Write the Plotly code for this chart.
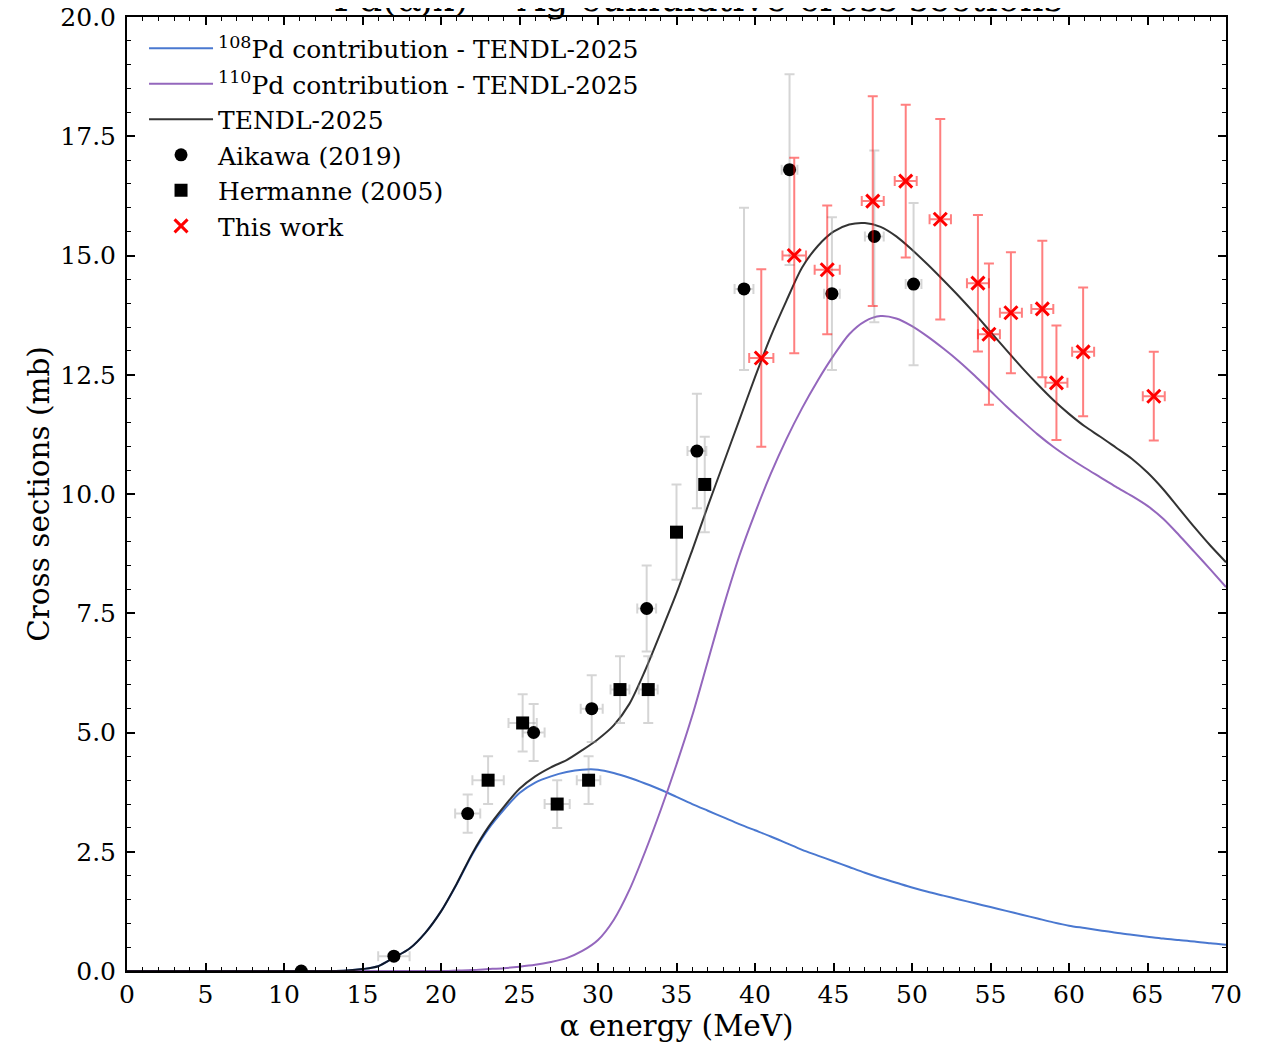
import plotly.graph_objects as go

# ---------------- data ----------------
energy = list(range(0, 71))

pd108 = [0]*13 + [0.0, 0.01, 0.04, 0.1, 0.28, 0.47, 0.8, 1.25, 1.82, 2.45, 2.97, 3.38,
         3.73, 3.95, 4.08, 4.17, 4.22, 4.22, 4.15, 4.05, 3.93, 3.8, 3.65, 3.5, 3.36, 3.22,
         3.08, 2.95, 2.82, 2.68, 2.54, 2.42, 2.3, 2.18, 2.06, 1.95, 1.85, 1.75, 1.66, 1.58,
         1.5, 1.42, 1.34, 1.26, 1.18, 1.1, 1.02, 0.95, 0.9, 0.85, 0.8, 0.76, 0.72, 0.68,
         0.65, 0.62, 0.58, 0.55]

pd110 = [0]*21 + [0.01, 0.02, 0.04, 0.06, 0.09, 0.13, 0.19, 0.27, 0.42, 0.65, 1.07, 1.7,
         2.5, 3.38, 4.33, 5.35, 6.5, 7.65, 8.7, 9.6, 10.42, 11.15, 11.8, 12.38, 12.9,
         13.35, 13.62, 13.73, 13.68, 13.52, 13.3, 13.05, 12.78, 12.48, 12.16, 11.84, 11.54,
         11.25, 10.99, 10.76, 10.55, 10.35, 10.15, 9.96, 9.75, 9.48, 9.14, 8.78, 8.42, 8.05]

tendl = [0]*14 + [0.01, 0.04, 0.1, 0.28, 0.47, 0.8, 1.25, 1.83, 2.47, 3.01, 3.44, 3.82,
         4.08, 4.27, 4.42, 4.63, 4.86, 5.15, 5.6, 6.3, 7.1, 7.92, 8.82, 9.75, 10.65, 11.55,
         12.45, 13.3, 14.05, 14.75, 15.2, 15.5, 15.65, 15.68, 15.6, 15.4, 15.12, 14.81,
         14.48, 14.14, 13.78, 13.4, 13.02, 12.65, 12.3, 11.97, 11.68, 11.42, 11.2, 10.97,
         10.74, 10.45, 10.1, 9.7, 9.3, 8.92, 8.57]

aik_e = [11.1, 17.0, 21.7, 25.9, 29.6, 33.1, 36.3, 39.3, 42.2, 44.9, 47.6, 50.1]
aik_de = [0.0, 1.0, 0.8, 0.7, 0.7, 0.6, 0.6, 0.6, 0.5, 0.5, 0.6, 0.5]
aik_cs = [0.0, 0.31, 3.3, 5.0, 5.5, 7.6, 10.9, 14.3, 16.8, 14.2, 15.4, 14.4]
aik_dcs = [0.0, 0.03, 0.4, 0.6, 0.7, 0.9, 1.2, 1.7, 2.0, 1.6, 1.8, 1.7]

her_e = [23.0, 25.2, 27.4, 29.4, 31.4, 33.2, 35.0, 36.8]
her_de = [1.0, 0.9, 0.8, 0.75, 0.6, 0.6, 0.3, 0.3]
her_cs = [4.0, 5.2, 3.5, 4.0, 5.9, 5.9, 9.2, 10.2]
her_dcs = [0.5, 0.6, 0.5, 0.5, 0.7, 0.7, 1.0, 1.0]

tw_e = [40.4, 42.5, 44.6, 47.5, 49.6, 51.8, 54.2, 54.9, 56.3, 58.3, 59.2, 60.9, 65.4]
tw_de = [0.77, 0.75, 0.8, 0.7, 0.7, 0.68, 0.7, 0.7, 0.7, 0.7, 0.7, 0.7, 0.7]
tw_cs = [12.85, 15.0, 14.7, 16.14, 16.56, 15.76, 14.42, 13.35, 13.8, 13.88, 12.33, 12.98, 12.05]
tw_dcs = [1.86, 2.05, 1.35, 2.2, 1.6, 2.1, 1.43, 1.48, 1.27, 1.43, 1.2, 1.35, 0.93]

x_ticks = list(range(0, 75, 5))
y_ticks = [0.0, 2.5, 5.0, 7.5, 10.0, 12.5, 15.0, 17.5, 20.0]

FONT = "DejaVu Serif"

fig = go.Figure()

fig.add_trace(go.Scatter(x=energy, y=pd108, mode="lines", line=dict(color="#4a78d0", width=2, shape="spline", smoothing=0.8),
                         name="<sup>108</sup>Pd contribution - TENDL-2025"))
fig.add_trace(go.Scatter(x=energy, y=pd110, mode="lines", line=dict(color="#9467bd", width=2, shape="spline", smoothing=0.8),
                         name="<sup>110</sup>Pd contribution - TENDL-2025"))
fig.add_trace(go.Scatter(x=energy, y=tendl, mode="lines", line=dict(color="rgba(0,0,0,0.8)", width=2, shape="spline", smoothing=0.8),
                         name="TENDL-2025"))

gray = "rgba(150,150,150,0.4)"
fig.add_trace(go.Scatter(x=aik_e, y=aik_cs, mode="markers", name="Aikawa (2019)",
                         marker=dict(symbol="circle", size=13, color="black"),
                         error_x=dict(type="data", array=aik_de, color=gray, thickness=2, width=5),
                         error_y=dict(type="data", array=aik_dcs, color=gray, thickness=2, width=5)))
fig.add_trace(go.Scatter(x=her_e, y=her_cs, mode="markers", name="Hermanne (2005)",
                         marker=dict(symbol="square", size=13, color="black"),
                         error_x=dict(type="data", array=her_de, color=gray, thickness=2, width=5),
                         error_y=dict(type="data", array=her_dcs, color=gray, thickness=2, width=5)))
red = "rgba(255,0,0,0.5)"
fig.add_trace(go.Scatter(x=tw_e, y=tw_cs, mode="markers", name="This work",
                         marker=dict(symbol="x-thin", size=13, color="red", line=dict(color="red", width=3)),
                         error_x=dict(type="data", array=tw_de, color=red, thickness=2, width=5),
                         error_y=dict(type="data", array=tw_dcs, color=red, thickness=2, width=5)))

axis_common = dict(showline=True, linewidth=2, linecolor="black", mirror="allticks",
                   ticks="inside", ticklen=8, tickwidth=1.5, tickcolor="black",
                   showgrid=False, zeroline=False, automargin=False,
                   ticklabeloverflow="allow",
                   tickfont=dict(family=FONT, size=25, color="black"))

fig.update_xaxes(range=[0, 70], tickvals=x_ticks, ticktext=[str(v) for v in x_ticks],
                 minor=dict(ticks="inside", ticklen=4, dtick=1, tickwidth=1, tickcolor="black"),
                 title=dict(text="α energy (MeV)", font=dict(family=FONT, size=29.5, color="black"), standoff=6),
                 **axis_common)
fig.update_yaxes(range=[0, 20], tickvals=y_ticks, ticktext=[f"{v:.1f}" for v in y_ticks],
                 minor=dict(ticks="inside", ticklen=4, dtick=0.5, tickwidth=1, tickcolor="black"),
                 title=dict(text="Cross sections (mb)", font=dict(family=FONT, size=29.5, color="black"), standoff=2),
                 ticklabelstandoff=4,
                 **axis_common)

fig.add_annotation(text="<sup>nat</sup>Pd(α,x)<sup>111</sup>Ag cumulative cross sections",
                   font=dict(family=FONT, size=37, color="black"),
                   xref="paper", yref="paper", x=0.5, y=1.0, xanchor="center", yanchor="middle",
                   yshift=22, showarrow=False)

fig.update_layout(
    width=1266, height=1044,
    margin=dict(l=119, r=48, t=9, b=81, autoexpand=False),
    plot_bgcolor="white", paper_bgcolor="white",
    legend=dict(x=0.0155, y=0.991, xanchor="left", yanchor="top", bgcolor="rgba(0,0,0,0)",
                font=dict(family=FONT, size=25, color="black"), itemwidth=64, tracegroupgap=0),
    showlegend=True,
)

fig.write_html("out.html")
